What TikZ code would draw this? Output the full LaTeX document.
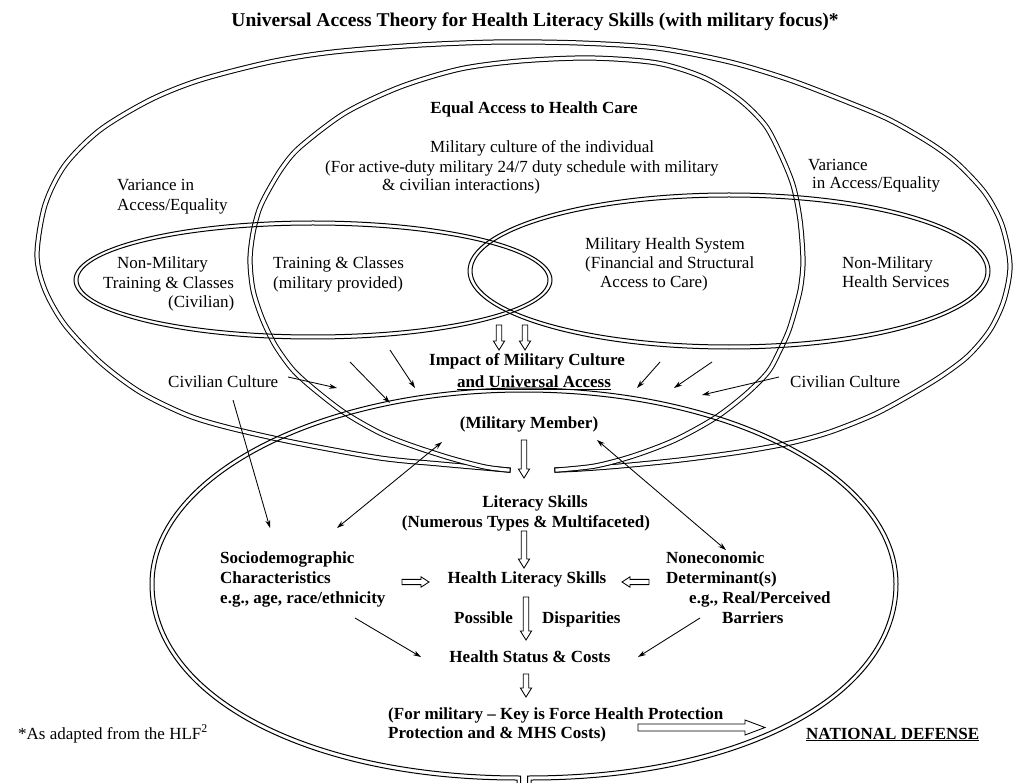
\documentclass[tikz,border=0pt]{standalone}
\usepackage{fontspec}
\setmainfont{Liberation Serif}
\usetikzlibrary{arrows.meta}

% hollow block arrows: down (x, y tail, y tip), right/left (x tail, x tip, y)
\newcommand\blkdown[3]{%
  \draw[blockarrow] (#1-2.8,#2) -- (#1+2.8,#2) -- (#1+2.8,#3-9) -- (#1+5.6,#3-9)
    -- (#1,#3) -- (#1-5.6,#3-9) -- (#1-2.8,#3-9) -- cycle;}
\newcommand\blkright[3]{%
  \draw[blockarrow] (#1,#3-2.6) -- (#2-8,#3-2.6) -- (#2-8,#3-5.2) -- (#2,#3)
    -- (#2-8,#3+5.2) -- (#2-8,#3+2.6) -- (#1,#3+2.6) -- cycle;}
\newcommand\blkleft[3]{%
  \draw[blockarrow] (#1,#3-2.6) -- (#2+8,#3-2.6) -- (#2+8,#3-5.2) -- (#2,#3)
    -- (#2+8,#3+5.2) -- (#2+8,#3+2.6) -- (#1,#3+2.6) -- cycle;}

\begin{document}
\begin{tikzpicture}[x=1pt,y=-1pt,
  rm/.style={font=\fontsize{17}{19}\selectfont, inner sep=0pt},
  bf/.style={font=\fontsize{17}{19}\selectfont\bfseries, inner sep=0pt},
  band/.style={double=white, line width=1pt, double distance=3.2pt, line cap=rect, line join=round},
  ring/.style={line width=1pt},
  link/.style={line width=0.85pt, -{Stealth[length=8pt,width=5pt]}},
  link2/.style={line width=0.85pt, {Stealth[length=8pt,width=5pt]}-{Stealth[length=8pt,width=5pt]}},
  blockarrow/.style={line width=0.85pt, fill=white, line join=miter}
]
\useasboundingbox[fill=white] (0,0) rectangle (1014,783);

% ---------- outer funnel: variance in access / equality ----------
\draw[band] plot[smooth, tension=0.5] coordinates {
 (508,470) (485,468) (440,464) (380,458) (297,443) (230,428) (187,415) (140,392)
 (100,362) (65,325) (45,290) (37,255) (45,205) (65,165) (100,130) (150,100)
 (200,80) (270,62) (333,52) (420,45) (500,42) (580,43) (657,48) (730,62)
 (790,80) (850,103) (890,120) (930,143) (957,163) (985,193) (1002,225) (1010,265)
 (1004,300) (990,330) (968,356) (940,377) (905,398) (873,415) (830,432) (790,443)
 (740,452) (680,460) (620,466) (580,469) (557,470)};

% ---------- middle funnel: equal access to health care ----------
\draw[band] plot[smooth, tension=0.5] coordinates {
 (508,470) (485,467) (450,458) (410,445) (380,433) (345,413) (315,390) (293,370)
 (275,345) (262,318) (253,290) (250,260) (253,233) (259,210) (267,193) (282,168)
 (300,147) (345,113) (400,87) (460,69) (520,61) (590,58) (657,63) (705,78)
 (740,100) (765,125) (780,153) (793,185) (800,220) (803,260) (801,285) (797,303)
 (789,330) (780,350) (768,372) (745,395) (715,418) (675,440) (633,456) (595,466)
 (557,470)};

% ---------- training ellipse and health-services ellipse ----------
\draw[ring] (313,280) ellipse [x radius=239, y radius=59];
\draw[ring] (313,280) ellipse [x radius=235, y radius=55];
\draw[ring] (729,271) ellipse [x radius=261, y radius=78];
\draw[ring] (729,271) ellipse [x radius=257, y radius=74];

% ---------- military member oval (flatter below), open at the bottom ----------
\draw[ring] (531,790) -- (531,780)
  .. controls (741,780) and (898,697.7) .. (898,584)
  .. controls (898,475.7) and (730.6,388) .. (524,388)
  .. controls (317.4,388) and (150,475.7) .. (150,584)
  .. controls (150,697.7) and (307,780) .. (517,780) -- (517,790);
\draw[ring] (527.5,790) -- (527.5,776)
  .. controls (738.6,776) and (894,695.4) .. (894,584)
  .. controls (894,478) and (728.4,392) .. (524,392)
  .. controls (319.6,392) and (154,478) .. (154,584)
  .. controls (154,695.4) and (309.4,776) .. (520.5,776) -- (520.5,790);

% ---------- texts ----------
\node[bf, anchor=base, font=\fontsize{19.5}{21}\selectfont\bfseries] (title) at (535,27)
  {Universal Access Theory for Health Literacy Skills (with military focus)*};
\node[bf, anchor=base] (eq) at (534,113.5) {Equal Access to Health Care};
\node[rm, anchor=base west] (mc1) at (430,152.5) {Military culture of the individual};
\node[rm, anchor=base west] (mc2) at (325,172.5) {(For active-duty military 24/7 duty schedule with military};
\node[rm, anchor=base west] (mc3) at (382,190.5) {\& civilian interactions)};

\node[rm, anchor=base west] (varL1) at (117,190.5) {Variance in};
\node[rm, anchor=base west] (varL2) at (117,210.5) {Access/Equality};
\node[rm, anchor=base west] (varR1) at (808,170.5) {Variance};
\node[rm, anchor=base west] (varR2) at (812,188.5) {in Access/Equality};

\node[rm, anchor=base west] (nmL1) at (117,268.5) {Non-Military};
\node[rm, anchor=base west] (nmL2) at (103,288.5) {Training \& Classes};
\node[rm, anchor=base west] (nmL3) at (168,307.5) {(Civilian)};
\node[rm, anchor=base west] (tc1) at (273,268.5) {Training \& Classes};
\node[rm, anchor=base west] (tc2) at (273,288.5) {(military provided)};
\node[rm, anchor=base west] (mhs1) at (585,249.5) {Military Health System};
\node[rm, anchor=base west] (mhs2) at (585,268.5) {(Financial and Structural};
\node[rm, anchor=base west] (mhs3) at (600,287.5) {Access to Care)};
\node[rm, anchor=base west] (nmR1) at (842,268.5) {Non-Military};
\node[rm, anchor=base west] (nmR2) at (842,288) {Health Services};

\node[bf, anchor=base] (impact) at (527,365.5) {Impact of Military Culture};
\node[bf, anchor=base] (univ) at (534,387.5) {\underline{and Universal Access}};
\node[rm, anchor=base west] (civL) at (168,387.5) {Civilian Culture};
\node[rm, anchor=base west] (civR) at (790,387.5) {Civilian Culture};
\node[bf, anchor=base] (mm) at (529,428) {(Military Member)};

\node[bf, anchor=base] (lit) at (535,507.5) {Literacy Skills};
\node[bf, anchor=base] (num) at (526,527.5) {(Numerous Types \& Multifaceted)};
\node[bf, anchor=base west] (socio) at (220,563.5) {Sociodemographic};
\node[bf, anchor=base west] (chars) at (220,583.5) {Characteristics};
\node[bf, anchor=base west] (egL) at (220,603.5) {e.g., age, race/ethnicity};
\node[bf, anchor=base] (hls) at (527,583.5) {Health Literacy Skills};
\node[bf, anchor=base west] (nonec) at (666,563.5) {Noneconomic};
\node[bf, anchor=base west] (det) at (666,583.5) {Determinant(s)};
\node[bf, anchor=base west] (egR) at (689,603.5) {e.g., Real/Perceived};
\node[bf, anchor=base west] (barr) at (722,623.5) {Barriers};
\node[bf, anchor=base east] (poss) at (513,623.5) {Possible};
\node[bf, anchor=base west] (disp) at (542,623.5) {Disparities};
\node[bf, anchor=base] (hs) at (530,662.5) {Health Status \& Costs};
\node[bf, anchor=base west] (fm1) at (388,719.5) {(For military – Key is Force Health Protection};
\node[bf, anchor=base west] (fm2) at (388,738.5) {Protection and \& MHS Costs)};
\node[bf, anchor=base west] (nd) at (806,739) {\underline{NATIONAL DEFENSE}};
\node[rm, anchor=base west] (foot) at (18,739) {*As adapted from the HLF\textsuperscript{2}};

% ---------- hollow block arrows ----------
\blkdown{499}{325}{350}
\blkdown{525}{325}{350}
\blkdown{524}{440}{478}
\blkdown{524}{531}{568}
\blkdown{526}{597}{640}
\blkdown{526}{674}{697}
\blkright{402}{429}{582}
\blkleft{649}{622}{582}
\draw[blockarrow] (638,724) -- (745,724) -- (745,720) -- (765,727.5) -- (745,735)
  -- (745,731) -- (638,731) -- cycle;

% ---------- thin connectors ----------
\coordinate (cL1) at (288,377);  \coordinate (cL1e) at (337,388);
\coordinate (cL2) at (233,400);  \coordinate (cL2e) at (270,528);
\coordinate (aA) at (350,362);   \coordinate (aAe) at (390,403);
\coordinate (aB) at (390,350);   \coordinate (aBe) at (415,388);
\coordinate (aC) at (660,362);   \coordinate (aCe) at (637,388);
\coordinate (aD) at (712,362);   \coordinate (aDe) at (674,388);
\coordinate (cR1) at (779,377);  \coordinate (cR1e) at (702,395);
\coordinate (sM) at (337,528);   \coordinate (sMe) at (442,442);
\coordinate (nM) at (726,550);   \coordinate (nMe) at (597,440);
\coordinate (eH) at (355,618);   \coordinate (eHe) at (421,657);
\coordinate (bH) at (700,618);   \coordinate (bHe) at (638,657);

\draw[link] (cL1) -- (cL1e);
\draw[link] (cL2) -- (cL2e);
\draw[link] (aA) -- (aAe);
\draw[link] (aB) -- (aBe);
\draw[link] (aC) -- (aCe);
\draw[link] (aD) -- (aDe);
\draw[link] (cR1) -- (cR1e);
\draw[link2] (sM) -- (sMe);
\draw[link2] (nM) -- (nMe);
\draw[link] (eH) -- (eHe);
\draw[link] (bH) -- (bHe);
\end{tikzpicture}
\end{document}
